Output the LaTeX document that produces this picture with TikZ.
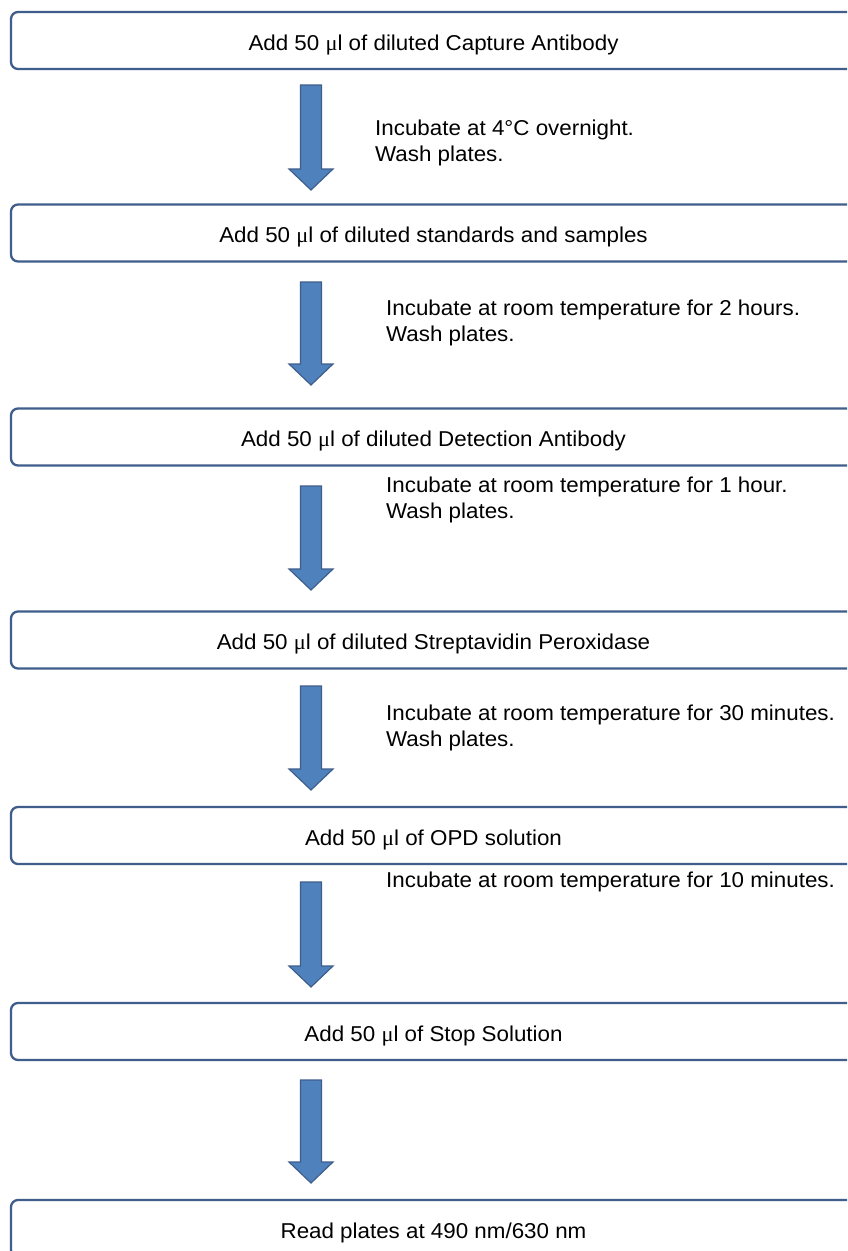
\documentclass[tikz,border=0pt]{standalone}
\usepackage{fontspec}
\setmainfont{Liberation Sans}[FakeStretch=1.04]
\newfontfamily\muface{Liberation Serif}[FakeStretch=1.04]
\usetikzlibrary{calc}
\definecolor{boxline}{HTML}{3F5E8C}
\definecolor{arrfill}{HTML}{4F81BD}
\newcommand{\myul}{{\muface μ}l}
\newcommand{\blockarrow}[2]{\draw[blockarr] ($(#1)+(-10.5,0)$) -- ($(#1)+(10.5,0)$) -- ($(#2)+(10.5,-21)$) -- ($(#2)+(22,-21)$) -- (#2) -- ($(#2)+(-22,-21)$) -- ($(#2)+(-10.5,-21)$) -- cycle;}
\begin{document}
\begin{tikzpicture}[x=1pt,y=-1pt,
  stepbox/.style={draw=boxline, line width=2.3pt, rounded corners=7pt, fill=white,
    minimum width=845pt, minimum height=57pt, inner sep=0pt, text height=19.5pt, text depth=0pt,
    font=\fontsize{21.5}{25}\selectfont},
  blockarr/.style={fill=arrfill, draw=boxline, line width=1.2pt, line join=miter},
  note/.style={anchor=west, align=left, inner sep=0pt, font=\fontsize{21.5}{26}\selectfont}]
\clip (0,0) rectangle (847,1251);
\fill[white] (0,0) rectangle (847,1251);
\node[stepbox] (b1) at (433.5,40.5) {Add 50 \myul{} of diluted Capture Antibody};
\node[stepbox] (b2) at (433.5,233) {Add 50 \myul{} of diluted standards and samples};
\node[stepbox] (b3) at (433.5,437) {Add 50 \myul{} of diluted Detection Antibody};
\node[stepbox] (b4) at (433.5,640) {Add 50 \myul{} of diluted Streptavidin Peroxidase};
\node[stepbox] (b5) at (433.5,835.5) {Add 50 \myul{} of OPD solution};
\node[stepbox] (b6) at (433.5,1031.5) {Add 50 \myul{} of Stop Solution};
\node[stepbox] (b7) at (433.5,1228.5) {Read plates at 490 nm/630 nm};
\coordinate (a1t) at (311,85);   \coordinate (a1h) at (311,190);
\coordinate (a2t) at (311,282);  \coordinate (a2h) at (311,385);
\coordinate (a3t) at (311,486);  \coordinate (a3h) at (311,590);
\coordinate (a4t) at (311,686);  \coordinate (a4h) at (311,790);
\coordinate (a5t) at (311,882);  \coordinate (a5h) at (311,987);
\coordinate (a6t) at (311,1080); \coordinate (a6h) at (311,1183);
\blockarrow{a1t}{a1h}
\blockarrow{a2t}{a2h}
\blockarrow{a3t}{a3h}
\blockarrow{a4t}{a4h}
\blockarrow{a5t}{a5h}
\blockarrow{a6t}{a6h}
\node[note] (n1) at (375,142.5) {Incubate at 4°C overnight.\\Wash plates.};
\node[note] (n2) at (386,322.5) {Incubate at room temperature for 2 hours.\\Wash plates.};
\node[note] (n3) at (386,500) {Incubate at room temperature for 1 hour.\\Wash plates.};
\node[note] (n4) at (386,727.5) {Incubate at room temperature for 30 minutes.\\Wash plates.};
\node[note] (n5) at (386,882) {Incubate at room temperature for 10 minutes.};
\end{tikzpicture}
\end{document}
